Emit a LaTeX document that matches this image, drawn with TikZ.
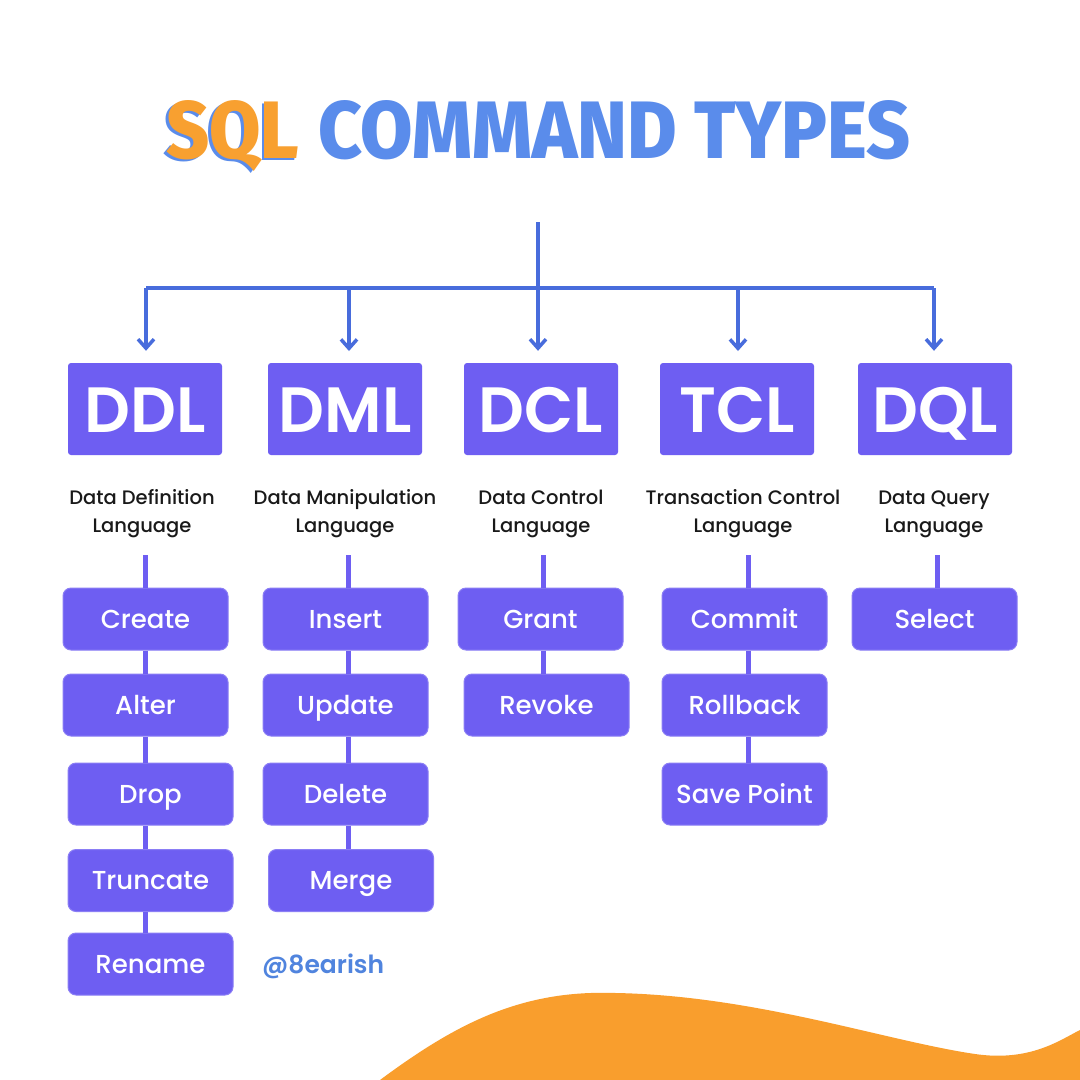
\documentclass[tikz,border=0pt]{standalone}
\usepackage{fontspec}
\setmainfont{Poppins}
\IfFontExistsTF{Fira Sans ExtraBold}{\newfontfamily\titlefont{Fira Sans ExtraBold}}{\newfontfamily\titlefont{Fira Sans}[UprightFont=*Bold]}
\IfFontExistsTF{Poppins Medium}{\newfontfamily\medfont{Poppins Medium}}{\newfontfamily\medfont{Poppins}}
\IfFontExistsTF{Poppins SemiBold}{\newfontfamily\semifont{Poppins SemiBold}}{\newfontfamily\semifont{Poppins}[UprightFont=*Bold]}
\usetikzlibrary{arrows.meta}
\definecolor{titleblue}{RGB}{90,140,235}
\definecolor{sqlorange}{RGB}{248,160,48}
\definecolor{linkblue}{RGB}{72,108,220}
\definecolor{boxpurple}{RGB}{110,94,242}
\definecolor{wave}{RGB}{249,158,45}
\definecolor{wmblue}{RGB}{80,132,222}
\tikzset{
  hdr/.style={fill=boxpurple, rounded corners=3pt, minimum width=154pt, minimum height=92pt,
    text=white, font=\fontsize{64}{70}\selectfont\semifont, inner sep=0pt, text height=46pt, text depth=0pt},
  item/.style={fill=boxpurple, draw=boxpurple!80!white, line width=1pt, rounded corners=8pt,
    minimum width=165pt, minimum height=62pt, text=white, font=\fontsize{26}{30}\selectfont\medfont,
    inner sep=0pt, text height=18pt, text depth=0pt},
  sub/.style={align=center, text=black!90, font=\fontsize{19.5}{28}\selectfont\medfont, inner sep=0pt},
  toplink/.style={draw=linkblue, line width=4pt},
  toparrow/.style={toplink, -{Straight Barb[length=9pt,width=16pt,line width=3.5pt]}, shorten >=12pt},
  itemlink/.style={draw=boxpurple, line width=5pt},
}
\begin{document}
\begin{tikzpicture}[x=1pt,y=-1pt]
\useasboundingbox (0,0) rectangle (1080,1080);
\fill[white] (0,0) rectangle (1080,1080);
% orange wave
\fill[wave] (380,1080) .. controls (450,1028) and (510,996) .. (590,993)
  .. controls (740,990) and (880,1040) .. (975,1054)
  .. controls (1030,1062) and (1060,1040) .. (1080,1030) -- (1080,1080) -- cycle;
% title
\node[anchor=base west, inner sep=0pt] (sql) at (166,158)
  {\resizebox{133pt}{58pt}{\titlefont\rlap{\kern-0.035em\raisebox{-0.035em}{\color{titleblue}SQL}}\color{sqlorange}SQL}};
\node[anchor=base west, inner sep=0pt, text=titleblue] (cmd) at (318,158)
  {\resizebox{592pt}{58pt}{\titlefont COMMAND TYPES}};
% headers
\node[hdr] (ddl) at (145,409) {DDL};
\node[hdr] (dml) at (345,409) {DML};
\node[hdr] (dcl) at (541,409) {DCL};
\node[hdr] (tcl) at (737,409) {TCL};
\node[hdr] (dql) at (935,409) {DQL};
% top connectors
\coordinate (root) at (538,222);
\coordinate (hub) at (538,288);
\coordinate (lft) at (146,288);
\coordinate (rgt) at (934,288);
\draw[toplink] (root) -- (hub);
\draw[toplink] (lft) -- (rgt);
\draw[toparrow] (lft) -- (lft |- ddl.north);
\draw[toparrow] (349,288) -- (349,363);
\draw[toparrow] (hub) -- (hub |- dcl.north);
\draw[toparrow] (738,288) -- (738,363);
\draw[toparrow] (rgt) -- (rgt |- dql.north);
% subtitles
\node[sub] (ddls) at (142,514) {Data Definition\\Language};
\node[sub] (dmls) at (345,514) {Data Manipulation\\Language};
\node[sub] (dcls) at (541,514) {Data Control\\Language};
\node[sub] (tcls) at (743,514) {Transaction Control\\Language};
\node[sub] (dqls) at (934,514) {Data Query\\Language};
\coordinate (c1) at (145,555);
\coordinate (c2) at (348,555);
\coordinate (c3) at (543,555);
\coordinate (c4) at (748,555);
\coordinate (c5) at (937,555);
% DDL items
\node[item] (create) at (145.5,619) {Create};
\node[item] (alter) at (145.5,705) {Alter};
\node[item] (drop) at (150.5,794) {Drop};
\node[item] (trunc) at (150.5,880.5) {Truncate};
\node[item] (rename) at (150.5,964) {Rename};
% DML items
\node[item] (insert) at (345.5,619) {Insert};
\node[item] (update) at (345.5,705) {Update};
\node[item] (delete) at (345.5,794) {Delete};
\node[item] (merge) at (351,880.5) {Merge};
% DCL items
\node[item] (grant) at (540.5,619) {Grant};
\node[item] (revoke) at (546.5,705) {Revoke};
% TCL items
\node[item] (commit) at (744.5,619) {Commit};
\node[item] (rollback) at (744.5,705) {Rollback};
\node[item] (savept) at (744.5,794) {Save Point};
% DQL items
\node[item] (select) at (934.5,619) {Select};
% links
\draw[itemlink] (c1) -- (c1 |- create.north);
\draw[itemlink] (c1 |- create.south) -- (c1 |- alter.north);
\draw[itemlink] (c1 |- alter.south) -- (c1 |- drop.north);
\draw[itemlink] (c1 |- drop.south) -- (c1 |- trunc.north);
\draw[itemlink] (c1 |- trunc.south) -- (c1 |- rename.north);
\draw[itemlink] (c2) -- (c2 |- insert.north);
\draw[itemlink] (c2 |- insert.south) -- (c2 |- update.north);
\draw[itemlink] (c2 |- update.south) -- (c2 |- delete.north);
\draw[itemlink] (c2 |- delete.south) -- (c2 |- merge.north);
\draw[itemlink] (c3) -- (c3 |- grant.north);
\draw[itemlink] (c3 |- grant.south) -- (c3 |- revoke.north);
\draw[itemlink] (c4) -- (c4 |- commit.north);
\draw[itemlink] (c4 |- commit.south) -- (c4 |- rollback.north);
\draw[itemlink] (c4 |- rollback.south) -- (c4 |- savept.north);
\draw[itemlink] (c5) -- (c5 |- select.north);
% watermark
\node[anchor=base west, inner sep=0pt, text=wmblue, font=\fontsize{25}{28}\selectfont\semifont] (wm) at (262,973) {@8earish};
\end{tikzpicture}
\end{document}
